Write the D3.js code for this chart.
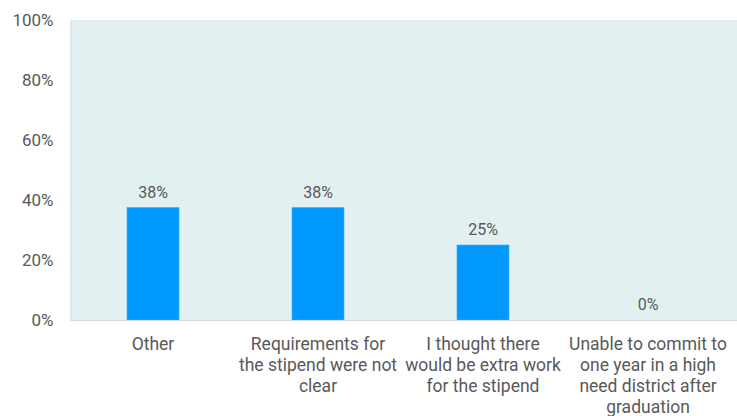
<!DOCTYPE html>
<html><head><meta charset="utf-8">
<script src="https://cdn.jsdelivr.net/npm/d3@7"></script>
<style>body{margin:0;background:#fff;} text{font-family:Roboto, "Noto Sans", sans-serif;}</style>
</head><body><svg id="c" width="737" height="416"></svg>
<script>
const categories = ["Other", "Requirements for the stipend were not clear", "I thought there would be extra work for the stipend", "Unable to commit to one year in a high need district after graduation"];
const categoryLines = [["Other"], ["Requirements for", "the stipend were not", "clear"], ["I thought there", "would be extra work", "for the stipend"], ["Unable to commit to", "one year in a high", "need district after", "graduation"]];
const values = [0.375, 0.375, 0.25, 0];
const valueLabels = ["38%", "38%", "25%", "0%"];
const yTicks = [0, 0.2, 0.4, 0.6, 0.8, 1.0];

const svg = d3.select("#c");
const m = {left: 70.5, right: 6.5, top: 20, bottom: 96};
const W = 737, H = 416;
const x = d3.scaleBand().domain(categories).range([m.left, W - m.right]).paddingInner(0.685).paddingOuter(0.3425);
const y = d3.scaleLinear().domain([0, 1]).range([H - m.bottom, m.top]);

svg.append("rect").attr("x", m.left).attr("y", m.top).attr("width", W - m.left).attr("height", y(0) - m.top).attr("fill", "#e2f0f1");

const yAxis = svg.append("g").attr("transform", `translate(${m.left},0)`)
  .call(d3.axisLeft(y).tickValues(yTicks).tickFormat(d3.format(".0%")).tickSize(0).tickPadding(17));
yAxis.select(".domain").attr("stroke", "#d9d9d9");
yAxis.selectAll("text").attr("fill", "#595959").style("font-size", "17px");

svg.selectAll("rect.bar").data(values).join("rect").attr("class", "bar")
  .attr("x", (d, i) => x(categories[i])).attr("width", x.bandwidth())
  .attr("y", d => y(d)).attr("height", d => y(0) - y(d))
  .attr("fill", "#0099ff").attr("stroke", "#33adff").attr("stroke-width", 0.6);

svg.selectAll("text.vl").data(values).join("text").attr("class", "vl")
  .attr("x", (d, i) => x(categories[i]) + x.bandwidth() / 2).attr("y", d => y(d) - 10)
  .attr("text-anchor", "middle").attr("fill", "#595959").style("font-size", "16px")
  .text((d, i) => valueLabels[i]);

const xAxis = svg.append("g").attr("transform", `translate(0,${y(0)})`)
  .call(d3.axisBottom(x).tickSize(0).tickPadding(0));
xAxis.select(".domain").attr("stroke", "#d9d9d9").attr("d", `M${m.left},0.5H${W}`);
xAxis.selectAll("text").attr("fill", "#595959").style("font-size", "17.5px").attr("y", 0).attr("dy", null)
  .each(function(d, i) {
    const t = d3.select(this);
    t.text(null);
    categoryLines[i].forEach((l, j) => t.append("tspan").attr("x", 0).attr("y", 30 + j * 21).text(l));
  });
</script></body></html>
